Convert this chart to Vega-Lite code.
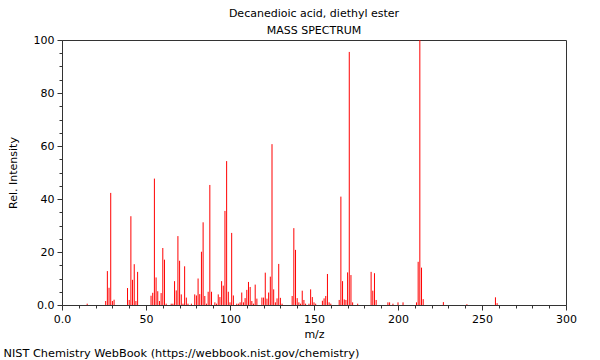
{
  "$schema": "https://vega.github.io/schema/vega-lite/v6.json",
  "width": 504,
  "height": 265,
  "autosize": "none",
  "padding": {"left": 62, "top": 40, "right": 34, "bottom": 55},
  "config": {
    "font": "DejaVu Sans",
    "view": {"stroke": "#333", "strokeWidth": 1},
    "axis": {"labelColor": "#000", "titleColor": "#000", "domainColor": "#333", "tickColor": "#333", "grid": false, "labelFontSize": 11, "titleFontSize": 11, "titleFontWeight": "normal", "labelFlush": false, "labelOverlap": false}
  },
  "title": {
    "text": ["Decanedioic acid, diethyl ester", "MASS SPECTRUM"],
    "fontSize": 11,
    "fontWeight": "normal",
    "lineHeight": 17,
    "offset": -2,
    "anchor": "middle",
    "frame": "group",
    "color": "#000"
  },
  "data": {
    "values": [
      {"mz": 15, "intensity": 0.5}, {"mz": 26, "intensity": 1.5}, {"mz": 27, "intensity": 12.8}, {"mz": 28, "intensity": 6.5},
      {"mz": 29, "intensity": 42.3}, {"mz": 30, "intensity": 1.5}, {"mz": 31, "intensity": 2.0}, {"mz": 39, "intensity": 6.4},
      {"mz": 40, "intensity": 1.9}, {"mz": 41, "intensity": 33.5}, {"mz": 42, "intensity": 9.5}, {"mz": 43, "intensity": 15.4},
      {"mz": 44, "intensity": 1.5}, {"mz": 45, "intensity": 12.5}, {"mz": 53, "intensity": 3.5}, {"mz": 54, "intensity": 4.6},
      {"mz": 55, "intensity": 47.7}, {"mz": 56, "intensity": 10.4}, {"mz": 57, "intensity": 5.2}, {"mz": 58, "intensity": 1.5},
      {"mz": 59, "intensity": 4.5}, {"mz": 60, "intensity": 21.5}, {"mz": 61, "intensity": 17.1}, {"mz": 62, "intensity": 0.5},
      {"mz": 65, "intensity": 0.5}, {"mz": 66, "intensity": 0.5}, {"mz": 67, "intensity": 9.0}, {"mz": 68, "intensity": 5.5},
      {"mz": 69, "intensity": 26.0}, {"mz": 70, "intensity": 16.7}, {"mz": 71, "intensity": 4.0}, {"mz": 72, "intensity": 0.5},
      {"mz": 73, "intensity": 14.6}, {"mz": 74, "intensity": 2.8}, {"mz": 75, "intensity": 0.5}, {"mz": 77, "intensity": 0.5},
      {"mz": 79, "intensity": 4.0}, {"mz": 80, "intensity": 3.6}, {"mz": 81, "intensity": 10.0}, {"mz": 82, "intensity": 4.1},
      {"mz": 83, "intensity": 20.1}, {"mz": 84, "intensity": 31.2}, {"mz": 85, "intensity": 3.4}, {"mz": 86, "intensity": 0.5},
      {"mz": 87, "intensity": 5.0}, {"mz": 88, "intensity": 45.3}, {"mz": 89, "intensity": 5.0}, {"mz": 91, "intensity": 1.0},
      {"mz": 92, "intensity": 0.5}, {"mz": 93, "intensity": 4.0}, {"mz": 94, "intensity": 3.0}, {"mz": 95, "intensity": 9.0},
      {"mz": 96, "intensity": 7.3}, {"mz": 97, "intensity": 35.5}, {"mz": 98, "intensity": 54.3}, {"mz": 99, "intensity": 5.0},
      {"mz": 100, "intensity": 1.0}, {"mz": 101, "intensity": 27.2}, {"mz": 102, "intensity": 3.6}, {"mz": 104, "intensity": 0.5},
      {"mz": 105, "intensity": 0.5}, {"mz": 106, "intensity": 1.0}, {"mz": 107, "intensity": 4.7}, {"mz": 108, "intensity": 1.0},
      {"mz": 109, "intensity": 2.6}, {"mz": 110, "intensity": 5.7}, {"mz": 111, "intensity": 8.7}, {"mz": 112, "intensity": 6.8},
      {"mz": 113, "intensity": 1.5}, {"mz": 114, "intensity": 0.5}, {"mz": 115, "intensity": 7.7}, {"mz": 116, "intensity": 2.4},
      {"mz": 119, "intensity": 2.8}, {"mz": 120, "intensity": 2.8}, {"mz": 121, "intensity": 12.2}, {"mz": 122, "intensity": 2.4},
      {"mz": 123, "intensity": 4.7}, {"mz": 124, "intensity": 10.7}, {"mz": 125, "intensity": 60.7}, {"mz": 126, "intensity": 5.9},
      {"mz": 127, "intensity": 1.0}, {"mz": 128, "intensity": 2.5}, {"mz": 129, "intensity": 15.5}, {"mz": 130, "intensity": 2.7},
      {"mz": 131, "intensity": 0.5}, {"mz": 137, "intensity": 3.4}, {"mz": 138, "intensity": 29.0}, {"mz": 139, "intensity": 20.8},
      {"mz": 140, "intensity": 2.6}, {"mz": 141, "intensity": 1.0}, {"mz": 142, "intensity": 0.5}, {"mz": 143, "intensity": 5.4},
      {"mz": 144, "intensity": 1.9}, {"mz": 145, "intensity": 0.5}, {"mz": 147, "intensity": 0.5}, {"mz": 148, "intensity": 5.9},
      {"mz": 149, "intensity": 3.0}, {"mz": 150, "intensity": 1.0}, {"mz": 151, "intensity": 0.5}, {"mz": 155, "intensity": 1.6},
      {"mz": 156, "intensity": 2.5}, {"mz": 157, "intensity": 3.4}, {"mz": 158, "intensity": 11.7}, {"mz": 159, "intensity": 1.0},
      {"mz": 160, "intensity": 0.5}, {"mz": 165, "intensity": 1.9}, {"mz": 166, "intensity": 40.9}, {"mz": 167, "intensity": 9.0},
      {"mz": 168, "intensity": 2.1}, {"mz": 169, "intensity": 1.9}, {"mz": 170, "intensity": 12.3}, {"mz": 171, "intensity": 95.5},
      {"mz": 172, "intensity": 11.3}, {"mz": 173, "intensity": 1.0}, {"mz": 176, "intensity": 0.5}, {"mz": 184, "intensity": 12.5},
      {"mz": 185, "intensity": 5.4}, {"mz": 186, "intensity": 12.0}, {"mz": 187, "intensity": 1.9}, {"mz": 194, "intensity": 1.0},
      {"mz": 195, "intensity": 1.0}, {"mz": 197, "intensity": 0.5}, {"mz": 200, "intensity": 1.0}, {"mz": 203, "intensity": 1.0},
      {"mz": 211, "intensity": 1.0}, {"mz": 212, "intensity": 16.3}, {"mz": 213, "intensity": 100}, {"mz": 214, "intensity": 14.1},
      {"mz": 215, "intensity": 2.2}, {"mz": 227, "intensity": 1.1}, {"mz": 241, "intensity": 0.3}, {"mz": 258, "intensity": 2.9},
      {"mz": 259, "intensity": 0.7}
    ]
  },
  "layer": [
    {
      "mark": {"type": "rule", "color": "#ff0000", "strokeWidth": 1},
      "encoding": {
        "x": {
          "field": "mz", "type": "quantitative",
          "scale": {"domain": [0, 300], "nice": false, "zero": false},
          "axis": {"values": [0, 50, 100, 150, 200, 250, 300], "labelExpr": "datum.value == 0 ? '0.0' : datum.label", "title": "m/z", "tickSize": 5, "labelPadding": 3, "titlePadding": 4}
        },
        "y": {
          "field": "intensity", "type": "quantitative",
          "scale": {"domain": [0, 100], "nice": false},
          "axis": {"values": [0, 20, 40, 60, 80, 100], "labelExpr": "datum.value == 0 ? '0.0' : datum.label", "title": "Rel. Intensity", "tickSize": 5, "labelPadding": 3, "titlePadding": 15}
        },
        "y2": {"datum": 0}
      }
    },
    {
      "mark": {"type": "rule", "opacity": 0},
      "encoding": {
        "x": {
          "field": "mz", "type": "quantitative",
          "axis": {"orient": "bottom", "values": [10, 20, 30, 40, 60, 70, 80, 90, 110, 120, 130, 140, 160, 170, 180, 190, 210, 220, 230, 240, 260, 270, 280, 290], "labels": false, "domain": false, "tickSize": 3,
                   "title": "NIST Chemistry WebBook (https://webbook.nist.gov/chemistry)", "titleFontSize": 11.3, "titleX": -59, "titleY": 48, "titleAlign": "left", "titleBaseline": "middle", "titleAnchor": "start"}
        },
        "y": {
          "field": "intensity", "type": "quantitative",
          "axis": {"orient": "left", "values": [5, 10, 15, 25, 30, 35, 45, 50, 55, 65, 70, 75, 85, 90, 95], "labels": false, "domain": false, "tickSize": 3, "title": null}
        }
      }
    }
  ],
  "resolve": {"axis": {"x": "independent", "y": "independent"}}
}
